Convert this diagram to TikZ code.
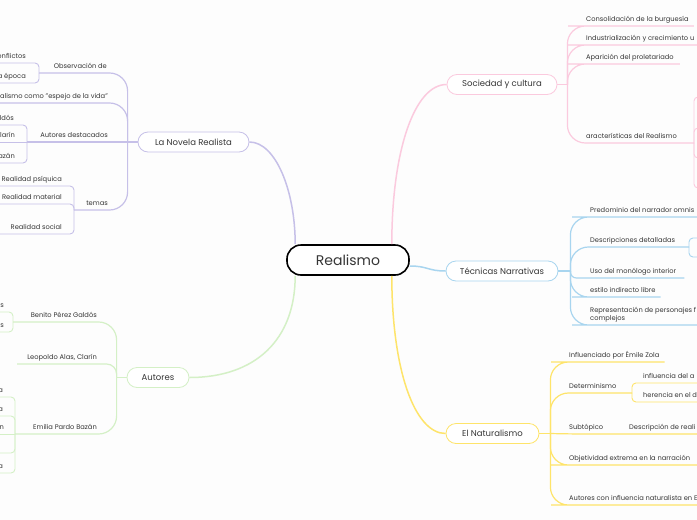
\documentclass[tikz,border=0pt]{standalone}
\usepackage{fontspec}
\setmainfont{Poppins}
\usetikzlibrary{calc}

\definecolor{bgc}{HTML}{FDFDFD}
\definecolor{txt}{HTML}{363636}
\definecolor{novc}{HTML}{C6C0E8}
\definecolor{autc}{HTML}{D4F0C6}
\definecolor{socc}{HTML}{FBCADE}
\definecolor{tecc}{HTML}{A8D5EF}
\definecolor{natc}{HTML}{FEE46A}

\begin{document}
\begin{tikzpicture}[x=1pt, y=-1pt,
  rootbox/.style={draw=black, line width=1.6pt, rounded corners=14pt, fill=white,
    minimum width=122pt, minimum height=30pt, font=\fontsize{14}{16}\selectfont, text=txt},
  topic/.style={draw, line width=0.8pt, rounded corners=10pt, fill=white,
    minimum height=20pt, font=\fontsize{8.5}{10}\selectfont, text=txt},
  lbl/.style={font=\fontsize{6.7}{7.8}\selectfont, text=txt, inner xsep=0pt, inner ysep=3pt,
    text height=5pt, text depth=1.4pt},
  lft/.style={lbl, anchor=south east},
  rgt/.style={lbl, anchor=south west},
  lnk/.style={line width=1.2pt, rounded corners=18pt},
  sub/.style={line width=0.9pt, rounded corners=4pt},
  trunk/.style={line width=1.5pt},
]
\useasboundingbox (0,0) rectangle (697,520);
\fill[bgc] (0,0) rectangle (697,520);
\clip (0,0) rectangle (697,520);

% Centre and main topics
\node[rootbox] (root) at (348,260) {Realismo};
\node[topic, draw=novc, minimum width=111pt] (novela) at (193.5,142) {La Novela Realista};
\node[topic, draw=autc, minimum width=62pt] (autores) at (158,377.5) {Autores};
\node[topic, draw=socc, minimum width=110pt] (soc) at (502,84.5) {Sociedad y cultura};
\node[topic, draw=tecc, minimum width=112pt] (tec) at (502,271) {Técnicas Narrativas};
\node[topic, draw=natc, minimum width=93pt] (nat) at (492.5,433.5) {El Naturalismo};

% Root connectors
\draw[novc, trunk] ([xshift=9pt]root.north west) .. controls +(0,-54) and +(26,0) .. (novela.east);
\draw[autc, trunk] ([xshift=9pt]root.south west) .. controls +(0,64) and +(66,0) .. (autores.east);
\draw[socc, trunk] ([xshift=-18pt]root.north east) .. controls +(0,-94) and +(-32,0) .. (soc.west);
\draw[tecc, trunk] ([yshift=-6pt]root.east) .. controls +(18,0) and +(-18,0) .. (tec.west);
\draw[natc, trunk] ([xshift=-18pt]root.south east) .. controls +(0,94) and +(-31,0) .. (nat.west);

% Sociedad y cultura
\coordinate (jS) at ([xshift=10pt]soc.east);
\node[rgt] (cons) at (586,26) {Consolidación de la burguesía};
\node[rgt] (ind) at (586,45) {Industrialización y crecimiento u};
\node[rgt] (apa) at (586,64) {Aparición del proletariado};
\node[rgt] (car) at (586,143) {aracterísticas del Realismo};
\coordinate (jCar) at (694,143);
\draw[socc, lnk] (soc.east) -- (jS);
\draw[socc, lnk] (jS) |- (cons.south west) -- ([xshift=5pt]cons.south east);
\draw[socc, lnk] (jS) |- (ind.south west) -- ([xshift=20pt]ind.south east);
\draw[socc, lnk] (jS) |- (apa.south west) -- ([xshift=6pt]apa.south east);
\draw[socc, lnk] (jS) |- (jCar);
\foreach \dy in {-46,-15,15,45}
  \draw[socc, sub] (jCar) |- ++(30,\dy);

% Tecnicas Narrativas
\coordinate (jT) at ([xshift=12pt]tec.east);
\node[rgt] (pre) at (590,217) {Predominio del narrador omnis};
\node[rgt] (des) at (590,247) {Descripciones detalladas};
\node[rgt] (uso) at (590,278) {Uso del monólogo interior};
\node[rgt] (est) at (590,297) {estilo indirecto libre};
\node[rgt, align=left, text height=, text depth=] (rep) at (590,325) {Representación de personajes f\\complejos};
\coordinate (jDes) at (689,247);
\draw[tecc, lnk] (tec.east) -- (jT);
\draw[tecc, lnk] (jT) |- (pre.south west) -- ([xshift=30pt]pre.south east);
\draw[tecc, lnk] (jT) |- (jDes);
\draw[tecc, lnk, rounded corners=6pt] (jT) |- (uso.south west) -- ([xshift=8pt]uso.south east);
\draw[tecc, lnk] (jT) |- (est.south west) -- ([xshift=5pt]est.south east);
\draw[tecc, lnk] (jT) |- (rep.south west) -- ([xshift=120pt]rep.south west);
\foreach \dy in {-9,10}
  \draw[tecc, sub] (jDes) |- ++(30,\dy);

% El Naturalismo
\coordinate (jNt) at ([xshift=11pt]nat.east);
\node[rgt] (inf) at (569,362) {Influenciado por Émile Zola};
\node[rgt] (det) at (569,393) {Determinismo};
\node[rgt] (sbt) at (569,434) {Subtópico};
\node[rgt] (obj) at (569,465) {Objetividad extrema en la narración};
\node[rgt] (acn) at (569,505) {Autores con influencia naturalista en E};
\coordinate (jDet) at (632,393);
\node[rgt] (amb) at (643,383) {influencia del a};
\node[rgt] (her) at (643,402) {herencia en el d};
\node[rgt] (dre) at (629,434) {Descripción de reali};
\draw[natc, lnk] (nat.east) -- (jNt);
\draw[natc, lnk] (jNt) |- (inf.south west) -- ([xshift=5pt]inf.south east);
\draw[natc, lnk] (jNt) |- (jDet);
\draw[natc, lnk] (jNt) -- (sbt.south west) -- (dre.south west) -- ([xshift=20pt]dre.south east);
\draw[natc, lnk] (jNt) |- (obj.south west) -- ([xshift=20pt]obj.south east);
\draw[natc, lnk] (jNt) |- (acn.south west) -- ([xshift=20pt]acn.south east);
\draw[natc, sub] (jDet) |- (amb.south west) -- ([xshift=20pt]amb.south east);
\draw[natc, sub] (jDet) |- (her.south west) -- ([xshift=20pt]her.south east);

% La Novela Realista
\coordinate (jN) at ([xshift=-10pt]novela.west);
\node[lft] (obs) at (107,73) {Observación de};
\node[lft] (esp) at (108,103) {alismo como "espejo de la vida"};
\node[lft] (ades) at (108,142) {Autores destacados};
\node[lft] (tem) at (108,210) {temas};
\coordinate (jObs) at (39,73);
\coordinate (jAD) at (27,142);
\coordinate (jTe) at (74,210);
\draw[novc, lnk] (novela.west) -- (jN);
\draw[novc, lnk] (jN) |- (jObs);
\draw[novc, lnk] (jN) |- ([xshift=-10pt]esp.south west);
\draw[novc, lnk] (jN) -- (jAD);
\draw[novc, lnk] (jN) |- (jTe);
\node[lft] (cnf) at (26,63) {onflictos};
\node[lft] (epo) at (26,83) {a época};
\draw[novc, sub] (jObs) |- ++(-50,-10);
\draw[novc, sub] (jObs) |- ++(-50,10);
\node[lft] (gal) at (14,125) {ldós};
\node[lft] (cla) at (15,142) {larín};
\node[lft] (baz) at (15,163) {azán};
\draw[novc, sub] (jAD) |- ++(-40,-17);
\draw[novc, sub] (jAD) -- ++(-40,0);
\draw[novc, sub] (jAD) |- ++(-40,21);
\node[lft] (psi) at (62,186) {Realidad psíquica};
\node[lft] (mat) at (62,204) {Realidad material};
\node[lft] (soci) at (62,234) {Realidad social};
\foreach \dy in {-24,-6,24}
  \draw[novc, sub] (jTe) |- ++(-90,\dy);

% Autores
\coordinate (jA) at ([xshift=-10pt]autores.west);
\node[lft] (ben) at (97,322) {Benito Pérez Galdós};
\node[lft] (leo) at (97,364) {Leopoldo Alas, Clarín};
\node[lft] (emi) at (97,434) {Emilia Pardo Bazán};
\coordinate (jBen) at (13,322);
\coordinate (jEmi) at (15,434);
\draw[autc, lnk] (autores.west) -- (jA);
\draw[autc, lnk] (jA) |- (jBen);
\draw[autc, lnk, rounded corners=10pt] (jA) |- ([xshift=-10pt]leo.south west);
\draw[autc, lnk] (jA) |- (jEmi);
\foreach \dy in {-10,10}
  \draw[autc, sub] (jBen) |- ++(-30,\dy);
\node[lft] (bs1) at (4,312) {s};
\node[lft] (bs2) at (4,332) {s};
\foreach \dy in {-37,-18,19,39}
  \draw[autc, sub] (jEmi) |- ++(-30,\dy);
\draw[autc, sub] (jEmi) -- ++(-30,0);
\node[lft] (ea1) at (3,397) {a};
\node[lft] (ea2) at (3,416) {a};
\node[lft] (en3) at (4,434) {n};
\node[lft] (ea5) at (3,473) {a};
\end{tikzpicture}
\end{document}
